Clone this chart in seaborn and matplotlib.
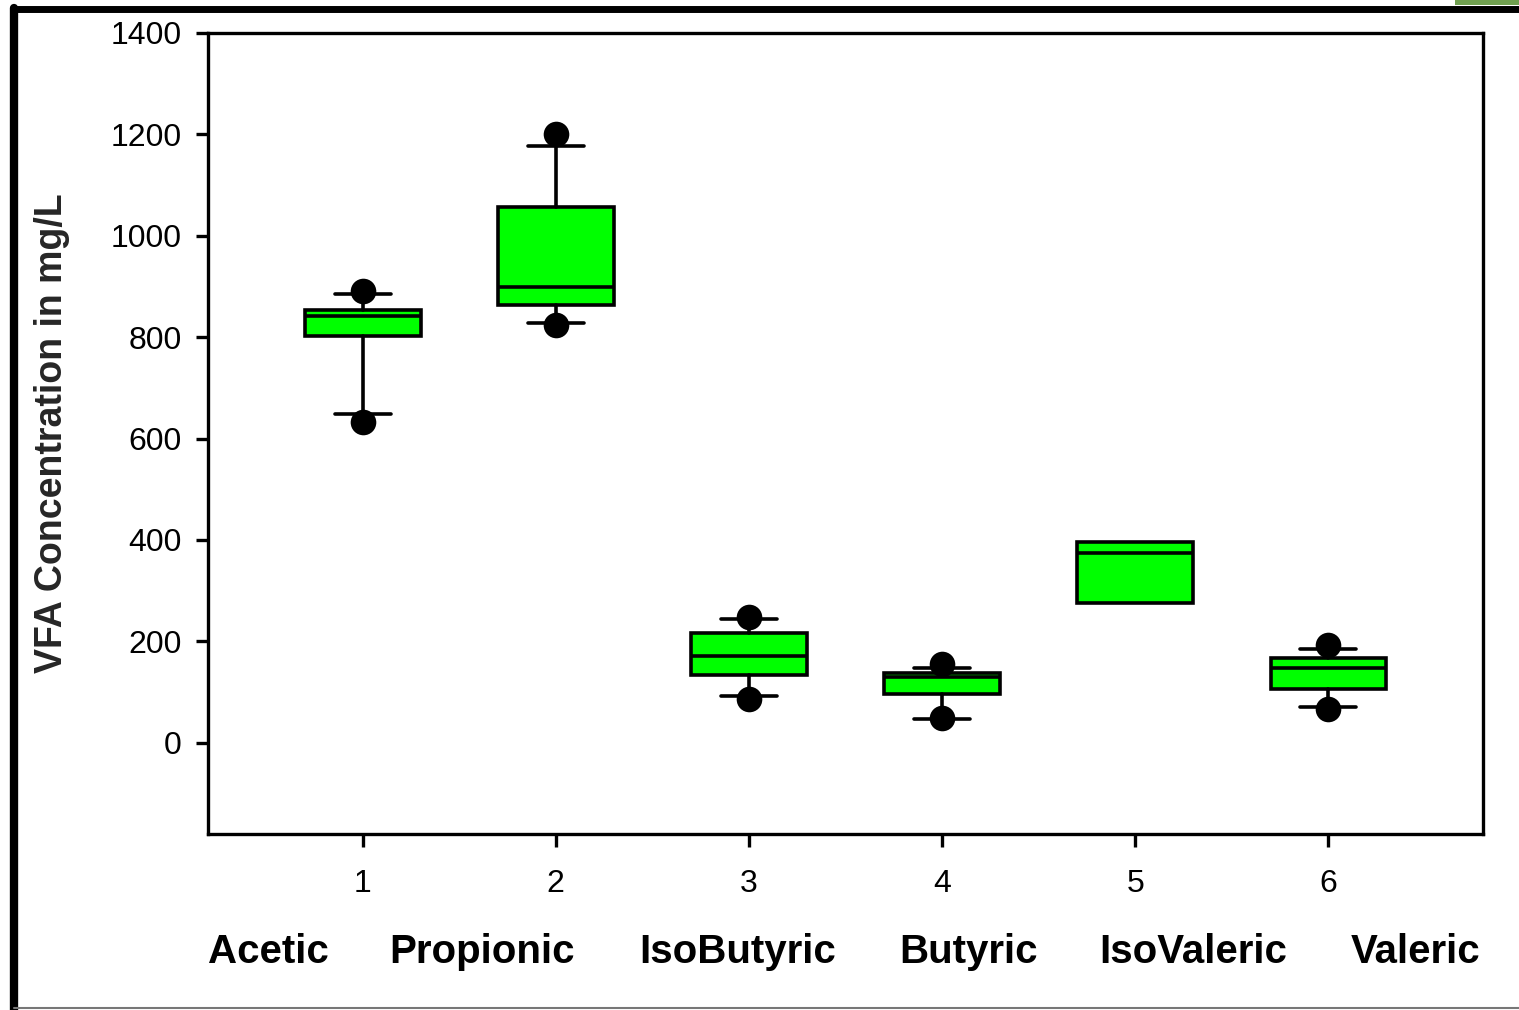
import pandas as pd
import matplotlib
matplotlib.use("Agg")
import matplotlib.pyplot as plt
from matplotlib.lines import Line2D
from matplotlib.patches import Rectangle
import seaborn as sns

# ---- data ----
positions   = [1, 2, 3, 4, 5, 6]
acids       = ["Acetic", "Propionic", "IsoButyric", "Butyric", "IsoValeric", "Valeric"]
q1          = [803, 864, 134, 97, 276, 106]
median      = [842, 899, 172, 130, 375, 148]
q3          = [854, 1057, 217, 138, 396, 168]
whisker_lo  = [649, 828, 93, 47, 276, 71]
whisker_hi  = [885, 1177, 245, 148, 396, 185]
has_whisker = [True, True, True, True, False, True]
outlier_lo  = [633, 824, 87, 49, None, 67]
outlier_hi  = [891, 1201, 249, 156, None, 193]
yticks      = [0, 200, 400, 600, 800, 1000, 1200, 1400]

sns.set_style("ticks")
plt.rcParams["font.family"] = ["Liberation Sans", "DejaVu Sans"]

W, H = 1519, 1010
fig = plt.figure(figsize=(W / 100, H / 100), dpi=100)
fig.patch.set_facecolor("white")
ax = fig.add_axes([208 / W, 1 - 834 / H, (1483 - 208) / W, (834 - 33) / H])

stats = []
for i in range(len(positions)):
    stats.append(dict(
        med=median[i], q1=q1[i], q3=q3[i],
        whislo=whisker_lo[i], whishi=whisker_hi[i],
        fliers=[], label=str(positions[i]),
    ))

lw = 2.6
parts = ax.bxp(stats, positions=positions, widths=0.6, capwidths=0.29,
               patch_artist=True, showfliers=False,
               boxprops=dict(facecolor="#00ff00", edgecolor="black", linewidth=lw),
               medianprops=dict(color="black", linewidth=lw),
               whiskerprops=dict(color="black", linewidth=lw),
               capprops=dict(color="black", linewidth=lw))

# IsoValeric is drawn without whiskers / caps
for i, hw in enumerate(has_whisker):
    if not hw:
        for key in ("whiskers", "caps"):
            parts[key][2 * i].set_visible(False)
            parts[key][2 * i + 1].set_visible(False)

# outlier points
pts = []
for i in range(len(positions)):
    for v in (outlier_lo[i], outlier_hi[i]):
        if v is not None:
            pts.append((positions[i], v))
df = pd.DataFrame(pts, columns=["pos", "value"])
sns.scatterplot(data=df, x="pos", y="value", ax=ax, s=340, color="black",
                edgecolor="black", linewidth=0, zorder=5, legend=False)

ax.set_xlim(0.2, 6.8)
ax.set_ylim(-180, 1400)
ax.set_yticks(yticks)
ax.set_yticklabels([str(t) for t in yticks])
ax.set_xticks(positions)
ax.set_xticklabels([str(p) for p in positions])
ax.set_xlabel("")
ax.set_ylabel("VFA Concentration in mg/L", fontsize=27, fontweight="bold")
ax.yaxis.set_label_coords(-0.108, 0.5)

for sp in ax.spines.values():
    sp.set_linewidth(2.4)
    sp.set_color("black")
ax.tick_params(axis="y", direction="out", length=9, width=2.4, pad=10,
               labelsize=23, colors="black")
ax.tick_params(axis="x", direction="out", length=9, width=2.4, pad=16,
               labelsize=23, colors="black")

# acid names below the numeric ticks
name_x = [268, 482, 738, 968, 1193, 1416]
for name, px in zip(acids, name_x):
    fig.text(px / W, 1 - 952 / H, name, ha="center", va="center",
             fontsize=29, fontweight="bold", color="black")

# outer frame of the screenshot
fig.add_artist(Line2D([14 / W, 14 / W], [0, 1 - 8 / H], transform=fig.transFigure,
                      color="black", linewidth=6))
fig.add_artist(Line2D([14 / W, 1], [1 - 9 / H, 1 - 9 / H], transform=fig.transFigure,
                      color="black", linewidth=5))
fig.add_artist(Line2D([14 / W, 1], [1 - 1008 / H, 1 - 1008 / H], transform=fig.transFigure,
                      color="#777777", linewidth=1.5))
fig.add_artist(Rectangle((1455 / W, 1 - 5 / H), 64 / W, 5 / H, transform=fig.transFigure,
                         facecolor="#70a050", edgecolor="none"))

fig.savefig("out.png", dpi=100)
